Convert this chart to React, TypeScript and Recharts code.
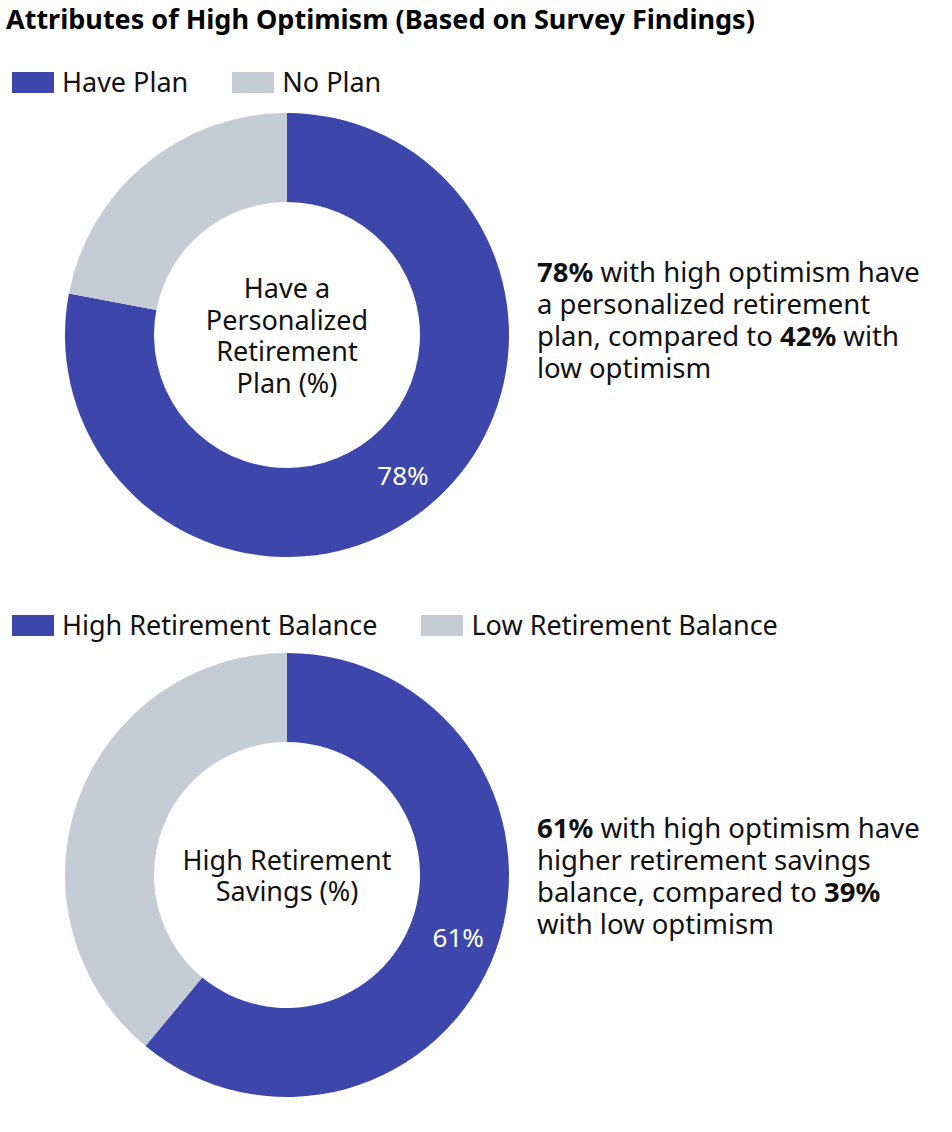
import { PieChart, Pie, Cell } from "recharts";

const TITLE = "Attributes of High Optimism (Based on Survey Findings)";

const planCategories = ["Have Plan", "No Plan"];
const planValues = [78, 22];
const planCenterLines = ["Have a", "Personalized", "Retirement", "Plan (%)"];
const planNoteLines = [
  [["78%", true], [" with high optimism have", false]],
  [["a personalized retirement", false]],
  [["plan, compared to ", false], ["42%", true], [" with", false]],
  [["low optimism", false]],
] as [string, boolean][][];

const balanceCategories = ["High Retirement Balance", "Low Retirement Balance"];
const balanceValues = [61, 39];
const balanceCenterLines = ["High Retirement", "Savings (%)"];
const balanceNoteLines = [
  [["61%", true], [" with high optimism have", false]],
  [["higher retirement savings", false]],
  [["balance, compared to ", false], ["39%", true]],
  [["with low optimism", false]],
] as [string, boolean][][];

const COLORS = ["#3d46aa", "#c5ccd5"];
const FONT = "'Noto Sans', sans-serif";

function LegendRow({ names, top }: { names: string[]; top: number }) {
  return (
    <div style={{ position: "absolute", left: 12, top, display: "flex", alignItems: "center" }}>
      {names.map((n, i) => (
        <div key={n} style={{ display: "flex", alignItems: "center", marginRight: 44 }}>
          <div style={{ width: 42, height: 21, background: COLORS[i], marginRight: 8 }} />
          <span style={{ fontSize: 27, color: "#111", lineHeight: "32px", whiteSpace: "nowrap" }}>{n}</span>
        </div>
      ))}
    </div>
  );
}

// slice label for the first slice, plus the text in the hole
function makeLabel(lines: string[]) {
  return (props: any) => {
    const { cx, cy, midAngle, outerRadius, index, value } = props;
    if (index !== 0) return null;
    const r = outerRadius - 40;
    const rad = (Math.PI / 180) * midAngle;
    const x = cx + r * Math.cos(rad);
    const y = cy - r * Math.sin(rad);
    const lh = 31.8;
    const start = cy - ((lines.length - 1) * lh) / 2;
    return (
      <g>
        <text x={x} y={y} textAnchor="middle" dominantBaseline="central" fill="#fff" fontSize={26} fontFamily={FONT}>
          {`${value}%`}
        </text>
        {lines.map((l, i) => (
          <text
            key={i}
            x={cx}
            y={start + i * lh}
            textAnchor="middle"
            dominantBaseline="central"
            fontSize={27}
            fill="#111"
            fontFamily={FONT}
          >
            {l}
          </text>
        ))}
      </g>
    );
  };
}

function Donut({ names, values, lines, top }: { names: string[]; values: number[]; lines: string[]; top: number }) {
  const data = names.map((name, i) => ({ name, value: values[i] }));
  return (
    <div style={{ position: "absolute", left: 0, top }}>
      <PieChart width={574} height={460} margin={{ top: 0, right: 0, bottom: 0, left: 0 }}>
        <Pie
          data={data}
          dataKey="value"
          nameKey="name"
          cx={287}
          cy={230}
          innerRadius={133}
          outerRadius={222}
          startAngle={90}
          endAngle={-270}
          stroke="none"
          labelLine={false}
          label={makeLabel(lines)}
          isAnimationActive={false}
        >
          {data.map((d, i) => (
            <Cell key={d.name} fill={COLORS[i]} />
          ))}
        </Pie>
      </PieChart>
    </div>
  );
}

function Note({ lines, top }: { lines: [string, boolean][][]; top: number }) {
  return (
    <div style={{ position: "absolute", left: 537, top, fontSize: 27.5, color: "#111" }}>
      {lines.map((parts, i) => (
        <div key={i} style={{ height: 32, lineHeight: "32px", whiteSpace: "pre" }}>
          {parts.map(([t, bold], j) => (
            <span key={j} style={{ fontWeight: bold ? 700 : 400 }}>
              {t}
            </span>
          ))}
        </div>
      ))}
    </div>
  );
}

export default function App() {
  return (
    <div
      style={{
        position: "absolute",
        left: 0,
        top: 0,
        width: 952,
        height: 1132,
        background: "#fff",
        fontFamily: FONT,
        overflow: "hidden",
      }}
    >
      <div
        style={{
          position: "absolute",
          left: 6,
          top: 0,
          fontSize: 27,
          lineHeight: "38px",
          fontWeight: 700,
          color: "#000",
          whiteSpace: "nowrap",
        }}
      >
        {TITLE}
      </div>

      <LegendRow names={planCategories} top={66} />
      <Donut names={planCategories} values={planValues} lines={planCenterLines} top={105} />
      <Note lines={planNoteLines} top={256} />

      <LegendRow names={balanceCategories} top={609} />
      <Donut names={balanceCategories} values={balanceValues} lines={balanceCenterLines} top={645} />
      <Note lines={balanceNoteLines} top={812} />
    </div>
  );
}
